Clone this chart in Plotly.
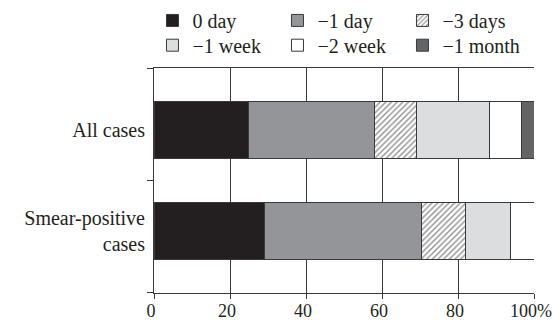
import plotly.graph_objects as go

categories = ["All cases", "Smear-positive<br>cases"]
series_names = ["0 day", "\u22121 day", "\u22123 days", "\u22121 week", "\u22122 week", "\u22121 month"]
all_cases = [24.8, 33.2, 11.0, 19.4, 8.4, 3.2]
smear_positive = [29.2, 41.1, 11.7, 11.7, 6.3, 0.0]
x_tick_vals = [0, 20, 40, 60, 80, 100]
x_tick_text = ["0", "20", "40", "60", "80", "100%"]

colors = ["#231f20", "#939598", "#ffffff", "#dcdddf", "#ffffff", "#636466"]
patterns = ["", "", "/", "", "", ""]
legend_rows = ["legend", "legend", "legend", "legend2", "legend2", "legend2"]

FONT = "'Liberation Serif', 'Times New Roman', 'DejaVu Serif', serif"
INK = "#231f20"
LINE = "#3a3a3a"

fig = go.Figure()
for i, name in enumerate(series_names):
    fig.add_trace(go.Bar(
        name=name,
        y=[0, 1],
        x=[all_cases[i], smear_positive[i]],
        orientation="h",
        width=0.57,
        legend=legend_rows[i],
        marker=dict(
            color=colors[i],
            line=dict(color=LINE, width=1),
            pattern=dict(shape=patterns[i], fgcolor="#231f20", bgcolor="#ffffff",
                         size=4, solidity=0.35),
        ),
    ))

leg_common = dict(
    orientation="h",
    xanchor="left", yanchor="top",
    entrywidth=80, entrywidthmode="pixels",
    itemwidth=30,
    font=dict(family=FONT, size=20, color=INK),
    traceorder="normal",
    bgcolor="rgba(0,0,0,0)",
)

fig.update_layout(
    width=552, height=322,
    barmode="stack",
    margin=dict(l=154, r=18, t=68, b=29, autoexpand=False),
    paper_bgcolor="white", plot_bgcolor="white",
    font=dict(family=FONT, size=20, color=INK),
    legend=dict(x=-0.004, y=1.298, **leg_common),
    legend2=dict(x=-0.004, y=1.188, **leg_common),
    xaxis=dict(
        range=[0, 100], automargin=False,
        tickvals=x_tick_vals, ticktext=x_tick_text,
        showgrid=True, gridcolor=LINE, gridwidth=1,
        zeroline=False,
        showline=True, linecolor=LINE, linewidth=1, mirror=True,
        ticks="outside", ticklen=5, tickcolor=LINE,
        tickfont=dict(family=FONT, size=18, color=INK),
        ticklabelshift=-3, ticklabeloverflow="allow",
        ticklabelstandoff=-4,
    ),
    yaxis=dict(
        range=[1.615, -0.615], automargin=False,
        tickvals=[0, 1], ticktext=categories,
        ticks="", showgrid=False, zeroline=False,
        showline=True, linecolor=LINE, linewidth=1,
        tickfont=dict(family=FONT, size=20, color=INK),
        ticklabelstandoff=4,
        minor=dict(tickmode="array", tickvals=[-0.612, 0.5, 1.612],
                   ticks="outside", ticklen=6, tickcolor=LINE, showgrid=False),
    ),
)

fig.write_html("out.html", config={"displayModeBar": False},
               post_script="document.body.style.margin='0';")
